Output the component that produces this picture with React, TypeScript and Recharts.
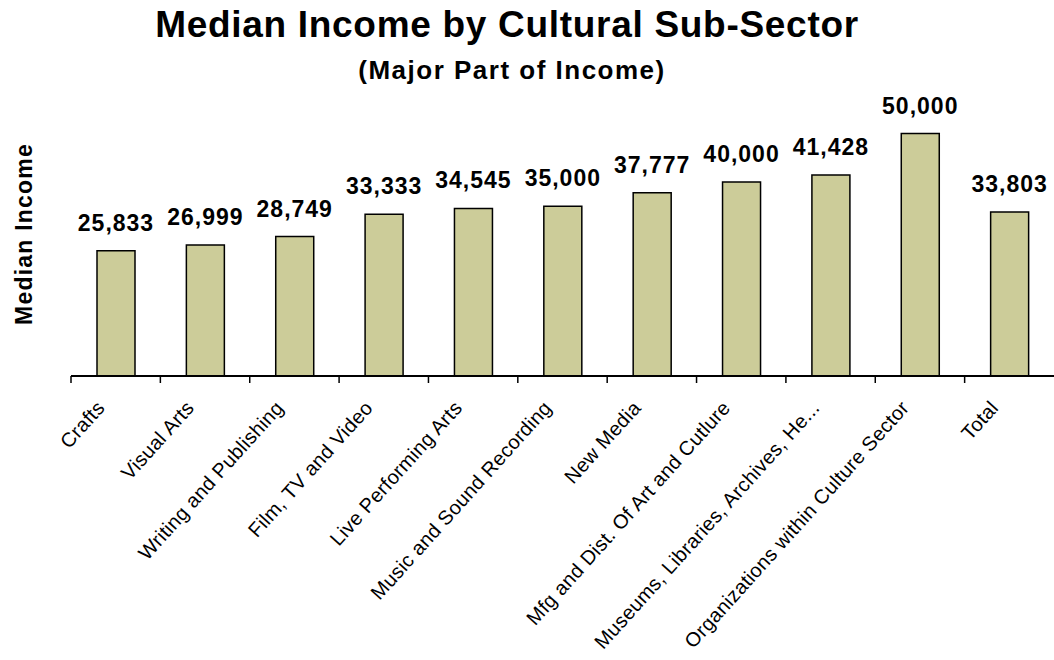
import React from 'react';
import { BarChart, Bar, XAxis, YAxis, LabelList } from 'recharts';

const categories = [
  'Crafts',
  'Visual Arts',
  'Writing and Publishing',
  'Film, TV and Video',
  'Live Performing Arts',
  'Music and Sound Recording',
  'New Media',
  'Mfg and Dist. Of Art and Cutlure',
  'Museums, Libraries, Archives, He...',
  'Organizations within Culture Sector',
  'Total',
];

const medianIncome = [25833, 26999, 28749, 33333, 34545, 35000, 37777, 40000, 41428, 50000, 33803];

const WIDTH = 1054;
const HEIGHT = 660;
const LEFT = 71;
const TOP = 85;
const AXIS_Y = 376;
const BAND = (WIDTH - LEFT) / categories.length;

const FONT = '"Liberation Sans", Arial, sans-serif';

const data = categories.map((name, i) => ({ name, value: medianIncome[i] }));

const CategoryTick = (props: any) => {
  const { x, payload } = props;
  const tx = x - 15;
  const ty = AXIS_Y + 28;
  return (
    <g>
      <line x1={x - BAND / 2} y1={AXIS_Y} x2={x - BAND / 2} y2={AXIS_Y + 7} stroke="#000" strokeWidth={1.5} />
      <text
        x={tx}
        y={ty}
        dy="0.35em"
        textAnchor="end"
        transform={`rotate(-48 ${tx} ${ty})`}
        fontFamily={FONT}
        fontSize={20}
        letterSpacing={0.3}
        fill="#000"
      >
        {payload.value}
      </text>
    </g>
  );
};

export default function App() {
  return (
    <div style={{ position: 'absolute', left: 0, top: 0, width: WIDTH, height: HEIGHT, background: '#fff' }}>
      <BarChart
        width={WIDTH}
        height={HEIGHT}
        data={data}
        margin={{ top: TOP, right: 0, left: LEFT, bottom: 0 }}
        barCategoryGap={0}
      >
        <XAxis
          dataKey="name"
          height={HEIGHT - AXIS_Y}
          interval={0}
          tickLine={false}
          axisLine={{ stroke: '#000', strokeWidth: 2 }}
          tick={<CategoryTick />}
        />
        <YAxis hide domain={[0, 60000]} />
        <Bar dataKey="value" fill="#CCCC99" stroke="#000" strokeWidth={1.5} barSize={38} isAnimationActive={false}>
          <LabelList
            dataKey="value"
            position="top"
            offset={20}
            formatter={(v: any) => Number(v).toLocaleString('en-US')}
            style={{ fontFamily: FONT, fontSize: 23, fontWeight: 'bold', letterSpacing: 1, fill: '#000' }}
          />
        </Bar>
      </BarChart>
      <svg width={WIDTH} height={HEIGHT} style={{ position: 'absolute', left: 0, top: 0, pointerEvents: 'none' }}>
        <text x={507} y={37} textAnchor="middle" fontFamily={FONT} fontSize={37} fontWeight="bold" letterSpacing={0.7} fill="#000">
          Median Income by Cultural Sub-Sector
        </text>
        <text x={512} y={79} textAnchor="middle" fontFamily={FONT} fontSize={26} fontWeight="bold" letterSpacing={1.5} fill="#000">
          (Major Part of Income)
        </text>
        <text
          x={32}
          y={234}
          textAnchor="middle"
          transform="rotate(-90 32 234)"
          fontFamily={FONT}
          fontSize={23}
          fontWeight="bold"
          letterSpacing={1.2}
          fill="#000"
        >
          Median Income
        </text>
      </svg>
    </div>
  );
}
